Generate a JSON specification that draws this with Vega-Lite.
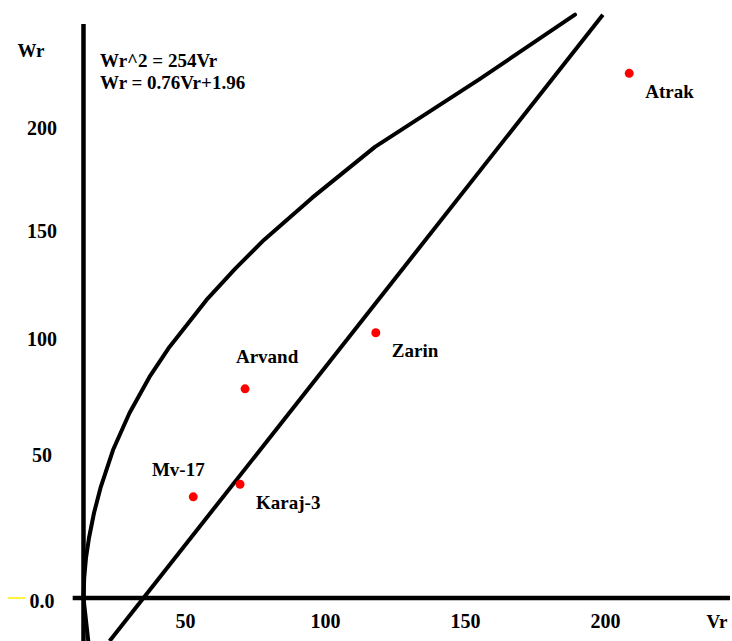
{
  "$schema": "https://vega.github.io/schema/vega-lite/v6.json",
  "width": 732,
  "height": 641,
  "autosize": {"type": "none"},
  "padding": 0,
  "background": "white",
  "config": {
    "view": {"stroke": null},
    "axis": {"disable": true},
    "text": {"font": "Liberation Serif", "fontWeight": "bold", "fill": "#000000"}
  },
  "datasets": {
    "points": [
      {"name": "Atrak", "Vr": 194.9, "Wr": 226.0},
      {"name": "Zarin", "Vr": 104.4, "Wr": 101.3},
      {"name": "Arvand", "Vr": 57.7, "Wr": 76.6},
      {"name": "Karaj-3", "Vr": 55.9, "Wr": 37.4},
      {"name": "Mv-17", "Vr": 39.2, "Wr": 32.6}
    ],
    "curve": [
      {"i": 0, "Vr": 1.71, "Wr": -11.91},
      {"i": 1, "Vr": 0, "Wr": 0},
      {"i": 2, "Vr": 0.25, "Wr": 4.84},
      {"i": 3, "Vr": 0.89, "Wr": 10.94},
      {"i": 4, "Vr": 1.96, "Wr": 17.63},
      {"i": 5, "Vr": 3.75, "Wr": 26.56},
      {"i": 6, "Vr": 6.07, "Wr": 35.97},
      {"i": 7, "Vr": 10.54, "Wr": 50.99},
      {"i": 8, "Vr": 16.43, "Wr": 66.32},
      {"i": 9, "Vr": 23.57, "Wr": 81.74},
      {"i": 10, "Vr": 30.71, "Wr": 94.95},
      {"i": 11, "Vr": 43.93, "Wr": 116.2},
      {"i": 12, "Vr": 54.46, "Wr": 131.0},
      {"i": 13, "Vr": 64.46, "Wr": 144.2},
      {"i": 14, "Vr": 81.61, "Wr": 164.3},
      {"i": 15, "Vr": 104.11, "Wr": 189.2},
      {"i": 16, "Vr": 141.61, "Wr": 223.2},
      {"i": 17, "Vr": 175.54, "Wr": 256.0}
    ],
    "fit": [
      {"Vr": 9.32, "Wr": -11.91},
      {"Vr": 185.5, "Wr": 256.0}
    ],
    "xticks": [
      {"value": 50}, {"value": 100}, {"value": 150}, {"value": 200}
    ],
    "yticks": [
      {"value": 0, "label": "0.0"},
      {"value": 50, "label": "50"},
      {"value": 100, "label": "100"},
      {"value": 150, "label": "150"},
      {"value": 200, "label": "200"}
    ]
  },
  "layer": [
    {
      "data": {"name": "curve"},
      "mark": {"type": "line", "color": "#000000", "strokeWidth": 4, "strokeJoin": "round", "strokeCap": "round"},
      "encoding": {
        "x": {"field": "Vr", "type": "quantitative", "axis": null,
              "scale": {"domain": [-29.82, 231.61], "nice": false, "zero": false}},
        "y": {"field": "Wr", "type": "quantitative", "axis": null,
              "scale": {"type": "pow", "exponent": 0.85, "domain": [-11.91, 263.6], "nice": false, "zero": false}},
        "order": {"field": "i", "type": "quantitative"}
      }
    },
    {
      "data": {"values": [{}]},
      "mark": {"type": "rule", "color": "#000000", "strokeWidth": 4.5},
      "encoding": {
        "x": {"datum": 0, "type": "quantitative"},
        "y": {"datum": -12, "type": "quantitative"},
        "y2": {"datum": 251.2}
      }
    },
    {
      "data": {"values": [{}]},
      "mark": {"type": "rule", "color": "#000000", "strokeWidth": 4.5},
      "encoding": {
        "y": {"datum": 0, "type": "quantitative"},
        "x": {"datum": -3.86, "type": "quantitative"},
        "x2": {"datum": 230.9}
      }
    },
    {
      "data": {"values": [{}]},
      "mark": {"type": "rule", "color": "#ffee00", "strokeWidth": 1.5},
      "encoding": {
        "y": {"datum": 0, "type": "quantitative"},
        "x": {"datum": -26.96, "type": "quantitative"},
        "x2": {"datum": -20.9}
      }
    },
    {
      "data": {"name": "fit"},
      "mark": {"type": "line", "color": "#000000", "strokeWidth": 4},
      "encoding": {
        "x": {"field": "Vr", "type": "quantitative"},
        "y": {"field": "Wr", "type": "quantitative"}
      }
    },
    {
      "data": {"name": "points"},
      "mark": {"type": "point", "shape": "circle", "filled": true, "color": "#ff0000", "size": 80, "opacity": 1},
      "encoding": {
        "x": {"field": "Vr", "type": "quantitative"},
        "y": {"field": "Wr", "type": "quantitative"}
      }
    },
    {
      "data": {"name": "points"},
      "transform": [{"filter": {"field": "name", "oneOf": ["Atrak", "Zarin", "Karaj-3"]}}],
      "mark": {"type": "text", "align": "left", "baseline": "middle", "dx": 16, "dy": 18.5, "fontSize": 19},
      "encoding": {
        "x": {"field": "Vr", "type": "quantitative"},
        "y": {"field": "Wr", "type": "quantitative"},
        "text": {"field": "name"}
      }
    },
    {
      "data": {"name": "points"},
      "transform": [{"filter": {"field": "name", "equal": "Arvand"}}],
      "mark": {"type": "text", "align": "center", "baseline": "middle", "dx": 22, "dy": -32, "fontSize": 19},
      "encoding": {
        "x": {"field": "Vr", "type": "quantitative"},
        "y": {"field": "Wr", "type": "quantitative"},
        "text": {"field": "name"}
      }
    },
    {
      "data": {"name": "points"},
      "transform": [{"filter": {"field": "name", "equal": "Mv-17"}}],
      "mark": {"type": "text", "align": "center", "baseline": "middle", "dx": -15, "dy": -27, "fontSize": 19},
      "encoding": {
        "x": {"field": "Vr", "type": "quantitative"},
        "y": {"field": "Wr", "type": "quantitative"},
        "text": {"field": "name"}
      }
    },
    {
      "data": {"name": "xticks"},
      "mark": {"type": "text", "align": "center", "baseline": "middle", "dx": -38, "dy": 24, "fontSize": 20},
      "encoding": {
        "x": {"field": "value", "type": "quantitative"},
        "y": {"datum": 0, "type": "quantitative"},
        "text": {"field": "value"}
      }
    },
    {
      "data": {"name": "yticks"},
      "mark": {"type": "text", "align": "center", "baseline": "middle", "dy": 4, "fontSize": 20},
      "encoding": {
        "x": {"datum": -14.8, "type": "quantitative"},
        "y": {"field": "value", "type": "quantitative"},
        "text": {"field": "label"}
      }
    },
    {
      "data": {"values": [{}]},
      "mark": {"type": "text", "align": "center", "baseline": "middle", "dy": 24, "fontSize": 19, "text": "Vr"},
      "encoding": {
        "x": {"datum": 226.25, "type": "quantitative"},
        "y": {"datum": 0, "type": "quantitative"}
      }
    },
    {
      "data": {"values": [{}]},
      "mark": {"type": "text", "align": "center", "baseline": "middle", "fontSize": 19, "text": "Wr"},
      "encoding": {
        "x": {"datum": -18.75, "type": "quantitative"},
        "y": {"datum": 237.4, "type": "quantitative"}
      }
    },
    {
      "data": {"values": [{}]},
      "mark": {"type": "text", "align": "left", "baseline": "middle", "fontSize": 19, "text": "Wr^2 = 254Vr"},
      "encoding": {
        "x": {"datum": 5.89, "type": "quantitative"},
        "y": {"datum": 232.5, "type": "quantitative"}
      }
    },
    {
      "data": {"values": [{}]},
      "mark": {"type": "text", "align": "left", "baseline": "middle", "fontSize": 19, "text": "Wr = 0.76Vr+1.96"},
      "encoding": {
        "x": {"datum": 5.89, "type": "quantitative"},
        "y": {"datum": 221.2, "type": "quantitative"}
      }
    }
  ]
}
